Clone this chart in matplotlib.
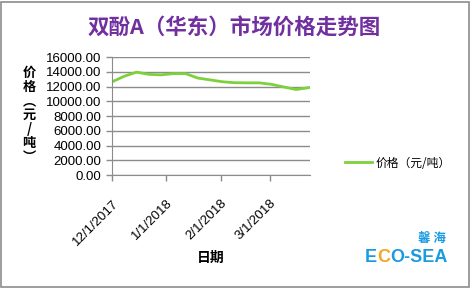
import pandas as pd
import matplotlib.pyplot as plt
import matplotlib.dates as mdates
from matplotlib.patches import Rectangle

plt.rcParams['font.family'] = ['Noto Sans CJK SC', 'DejaVu Sans']

# Weekly price readings
dates = ["2017-12-01", "2017-12-08", "2017-12-15", "2017-12-22", "2017-12-29",
         "2018-01-05", "2018-01-12", "2018-01-19", "2018-01-26", "2018-02-02",
         "2018-02-09", "2018-02-16", "2018-02-23", "2018-03-02", "2018-03-09",
         "2018-03-16", "2018-03-24"]
prices = [12640, 13400, 13950, 13650, 13580, 13750, 13750, 13150, 12900, 12650,
          12520, 12500, 12500, 12300, 11950, 11600, 11870]
yticks = [0, 2000, 4000, 6000, 8000, 10000, 12000, 14000, 16000]
xticks = ["2017-12-01", "2018-01-01", "2018-02-01", "2018-03-01"]

series_name = "价格（元/吨）"
title = "双酚A（华东）市场价格走势图"

d = pd.to_datetime(dates)
latin = ['Liberation Sans', 'DejaVu Sans']

fig = plt.figure(figsize=(4.71, 2.88), dpi=100)
fig.patches.append(Rectangle((0.002, 0.004), 0.994, 0.99, transform=fig.transFigure,
                             fill=False, edgecolor='#8c8c8c', linewidth=1.2))

ax = fig.add_axes([0.238, 0.392, 0.42, 0.41])
ax.plot(d, prices, color='#7dd13b', linewidth=2, label=series_name)

ax.set_ylim(0, 16000)
ax.set_yticks(yticks)
ax.set_yticklabels([f"{v:.2f}" for v in yticks], fontsize=9.5, family=latin)
ax.set_xlim(pd.Timestamp("2017-12-01"), pd.Timestamp("2018-03-24"))
ax.set_xticks(pd.to_datetime(xticks))
ax.xaxis.set_major_formatter(mdates.DateFormatter('%-m/%-d/%Y'))
for lab in ax.get_xticklabels():
    lab.set_rotation(45)
    lab.set_ha('right')
    lab.set_rotation_mode('anchor')
    lab.set_fontsize(9.5)
    lab.set_family(latin)

ax.grid(axis='y', color='#8c8c8c', linewidth=1)
ax.set_axisbelow(True)
for s in ['top', 'right']:
    ax.spines[s].set_visible(False)
ax.spines['left'].set_color('#8c8c8c')
ax.spines['bottom'].set_color('#8c8c8c')
ax.tick_params(axis='both', colors='#8c8c8c', labelcolor='black', length=4, width=1)
ax.tick_params(axis='x', pad=12)

fig.text(0.497, 0.906, title, ha='center', va='center', fontsize=15.5,
         fontweight='bold', color='#7030a0')

ylab = "\n".join(["价", "格", "︵", "元", "/", "吨", "︶"])
fig.text(0.062, 0.6, ylab, ha='center', va='center', fontsize=9.5,
         fontweight='bold', linespacing=1.0)
fig.text(0.448, 0.105, "日期", ha='center', va='center', fontsize=10,
         fontweight='bold')

leg = fig.legend(loc='center left', bbox_to_anchor=(0.71, 0.434), frameon=False,
                 fontsize=8.5, handlelength=2.3, handletextpad=0.3)

# logo
logo_font = ['Liberation Sans', 'DejaVu Sans']
fig.text(0.775, 0.09, "E", fontsize=13, fontweight='bold', color='#1a9be0',
         family=logo_font, va='baseline')
fig.text(0.8, 0.09, "C", fontsize=13, fontweight='bold', color='#f5a623',
         family=logo_font, va='baseline')
fig.text(0.828, 0.09, "O-SEA", fontsize=13, fontweight='bold', color='#1a9be0',
         family=logo_font, va='baseline')
fig.text(0.887, 0.16, "馨 海", fontsize=9, fontweight='bold', color='#1a9be0')

fig.savefig("out.png", dpi=100)
